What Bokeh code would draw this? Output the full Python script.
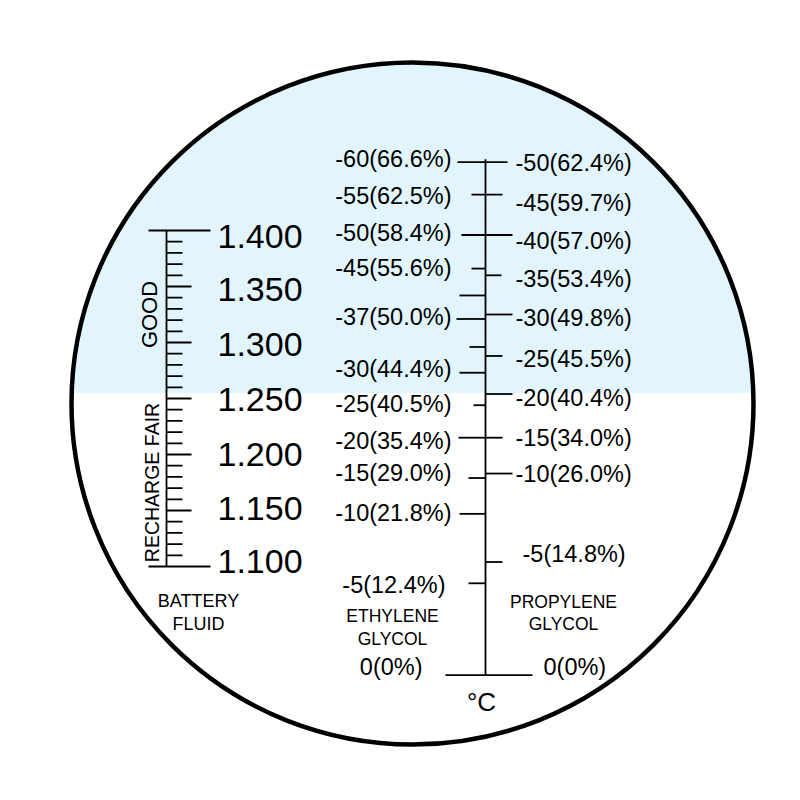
import numpy as np
from bokeh.plotting import figure
from bokeh.models import Range1d, ColumnDataSource
from bokeh.core.properties import value
from bokeh.embed import file_html
from bokeh.resources import INLINE

# ---------------- data ----------------
battery_sg = [1.400, 1.350, 1.300, 1.250, 1.200, 1.150, 1.100]
battery_labels = ["1.400", "1.350", "1.300", "1.250", "1.200", "1.150", "1.100"]
battery_minor_step = 0.01
good_zone_start = 1.255          # blue field above this reading

eth_freeze_c = [-60, -55, -50, -45, -37, -30, -25, -20, -15, -10, -5, 0]
eth_conc_pct = [66.6, 62.5, 58.4, 55.6, 50.0, 44.4, 40.5, 35.4, 29.0, 21.8, 12.4, 0]
eth_reading = [1.461, 1.432, 1.396, 1.366, 1.321, 1.273, 1.244, 1.215, 1.179, 1.147, 1.085, 1.003]
eth_unlabeled_reading = [1.342, 1.296]

prop_freeze_c = [-50, -45, -40, -35, -30, -25, -20, -15, -10, -5, 0]
prop_conc_pct = [62.4, 59.7, 57.0, 53.4, 49.8, 45.5, 40.4, 34.0, 26.0, 14.8, 0]
prop_reading = [1.461, 1.432, 1.396, 1.360, 1.325, 1.288, 1.254, 1.215, 1.183, 1.104, 1.003]

# ---------------- layout / style ----------------
W = H = 784
PX_PER_UNIT = 1120.0             # screen pixels per 1.000 of reading
PX = 1.0 / PX_PER_UNIT
Y_TOP = 1.400 + 230 * PX
Y_BOT = Y_TOP - H * PX
BLUE = "#e2f5fc"
FONT = value("Liberation Sans")

def ry(py):
    """reading value for a page row (layout helper for free texts)"""
    return 1.400 - (py - 230) * PX

# tick lengths (px)
eth_tick_len = [28, 14, 24, 14, 29, 26, 12, 27, 17, 26, 17, 40]
eth_unlabeled_len = [26, 16]
prop_tick_len = [22, 17, 27, 16, 27, 17, 27, 17, 27, 17, 47]
eth_lab_dy = [-3, 1, -2, -1, -2, -4, -1, 3, -5, -1, 2, -8]
eth_lab_dx = [0, 0, 0, 0, 0, 0, 0, 0, 0, 0, -6, -29]
prop_lab_dy = [1, 8, 6, 4, 3, 3, 4, 0, 0, -8, -8]
prop_lab_dx = [0, 0, 0, 0, 0, 0, 0, 0, 0, 7, 28]
bat_lab_dy = [6, 3, 2, 1, 0, -2, -5]

def lab(t, c):
    return f"{t}(0%)" if c == 0 else f"{t}({c:.1f}%)"

p = figure(width=W, height=H, output_backend="svg", toolbar_location=None,
           x_range=Range1d(0, W), y_range=Range1d(Y_BOT, Y_TOP),
           x_axis_location=None, y_axis_location=None, min_border=0,
           background_fill_color="white", border_fill_color="white")
p.grid.visible = False
p.outline_line_color = None

# ---------------- lens circle ----------------
CX, CY, R = 412, ry(403), 341
p.circle(x=[CX], y=[CY], radius=R, radius_units="screen", fill_color=BLUE, line_color=None)
p.quad(left=[0], right=[800], top=[good_zone_start], bottom=[Y_BOT - 1], fill_color="white", line_color=None)
p.circle(x=[CX], y=[CY], radius=R, radius_units="screen", fill_color=None,
         line_color="black", line_width=4.5)

# ---------------- battery scale ----------------
BX = 166
LW = 1.8
p.segment(x0=[BX], y0=[min(battery_sg)], x1=[BX], y1=[max(battery_sg)], line_color="black", line_width=LW)
ends = [max(battery_sg), min(battery_sg)]
p.segment(x0=[148] * 2, y0=ends, x1=[210] * 2, y1=ends, line_color="black", line_width=LW)
majors = [v for v in battery_sg if v not in ends]
p.segment(x0=[BX] * len(majors), y0=majors, x1=[191] * len(majors), y1=majors, line_color="black", line_width=LW)
allt = np.round(np.arange(min(battery_sg), max(battery_sg) + 1e-9, battery_minor_step), 3)
minors = [v for v in allt if all(abs(v - m) > 1e-6 for m in battery_sg)]
p.segment(x0=[BX] * len(minors), y0=minors, x1=[182] * len(minors), y1=minors, line_color="black", line_width=LW)

bsrc = ColumnDataSource(dict(y=battery_sg, t=battery_labels, dy=bat_lab_dy))
p.text(x=217, y="y", text="t", y_offset="dy", source=bsrc, text_font=FONT,
       text_font_size="34px", text_baseline="middle", text_align="left", text_color="black")

p.text(x=[149], y=[ry(314)], text=["GOOD"], angle=np.pi / 2, text_font=FONT,
       text_font_size="22px", text_baseline="middle", text_align="center", text_color="black")
p.text(x=[151], y=[ry(482)], text=["RECHARGE FAIR"], angle=np.pi / 2, text_font=FONT,
       text_font_size="19.5px", text_baseline="middle", text_align="center", text_color="black")
p.text(x=[198, 198], y=[ry(600), ry(623)], text=["BATTERY", "FLUID"], text_font=FONT,
       text_font_size="18px", text_baseline="middle", text_align="center", text_color="black")

# ---------------- glycol scale ----------------
GX = 485
p.segment(x0=[GX], y0=[max(eth_reading + prop_reading) + 3 * PX], x1=[GX], y1=[min(eth_reading)],
          line_color="black", line_width=LW)
p.segment(x0=[GX - l for l in eth_tick_len], y0=eth_reading, x1=[GX] * len(eth_reading), y1=eth_reading,
          line_color="black", line_width=LW)
p.segment(x0=[GX - l for l in eth_unlabeled_len], y0=eth_unlabeled_reading,
          x1=[GX] * len(eth_unlabeled_reading), y1=eth_unlabeled_reading, line_color="black", line_width=LW)
p.segment(x0=[GX] * len(prop_reading), y0=prop_reading, x1=[GX + l for l in prop_tick_len], y1=prop_reading,
          line_color="black", line_width=LW)

esrc = ColumnDataSource(dict(y=eth_reading, t=[lab(a, b) for a, b in zip(eth_freeze_c, eth_conc_pct)],
                             dx=eth_lab_dx, dy=eth_lab_dy))
p.text(x=451, y="y", text="t", x_offset="dx", y_offset="dy", source=esrc, text_font=FONT,
       text_font_size="23.5px", text_baseline="middle", text_align="right", text_color="black")
psrc = ColumnDataSource(dict(y=prop_reading, t=[lab(a, b) for a, b in zip(prop_freeze_c, prop_conc_pct)],
                             dx=prop_lab_dx, dy=prop_lab_dy))
p.text(x=515, y="y", text="t", x_offset="dx", y_offset="dy", source=psrc, text_font=FONT,
       text_font_size="23.5px", text_baseline="middle", text_align="left", text_color="black")

p.text(x=[392, 392], y=[ry(615), ry(638)], text=["ETHYLENE", "GLYCOL"], text_font=FONT,
       text_font_size="17.5px", text_baseline="middle", text_align="center", text_color="black")
p.text(x=[563, 563], y=[ry(601), ry(623)], text=["PROPYLENE", "GLYCOL"], text_font=FONT,
       text_font_size="17.5px", text_baseline="middle", text_align="center", text_color="black")
p.text(x=[481], y=[ry(701)], text=["°C"], text_font=FONT,
       text_font_size="26px", text_baseline="middle", text_align="center", text_color="black")

open("out.html", "w").write(file_html(p, INLINE))
